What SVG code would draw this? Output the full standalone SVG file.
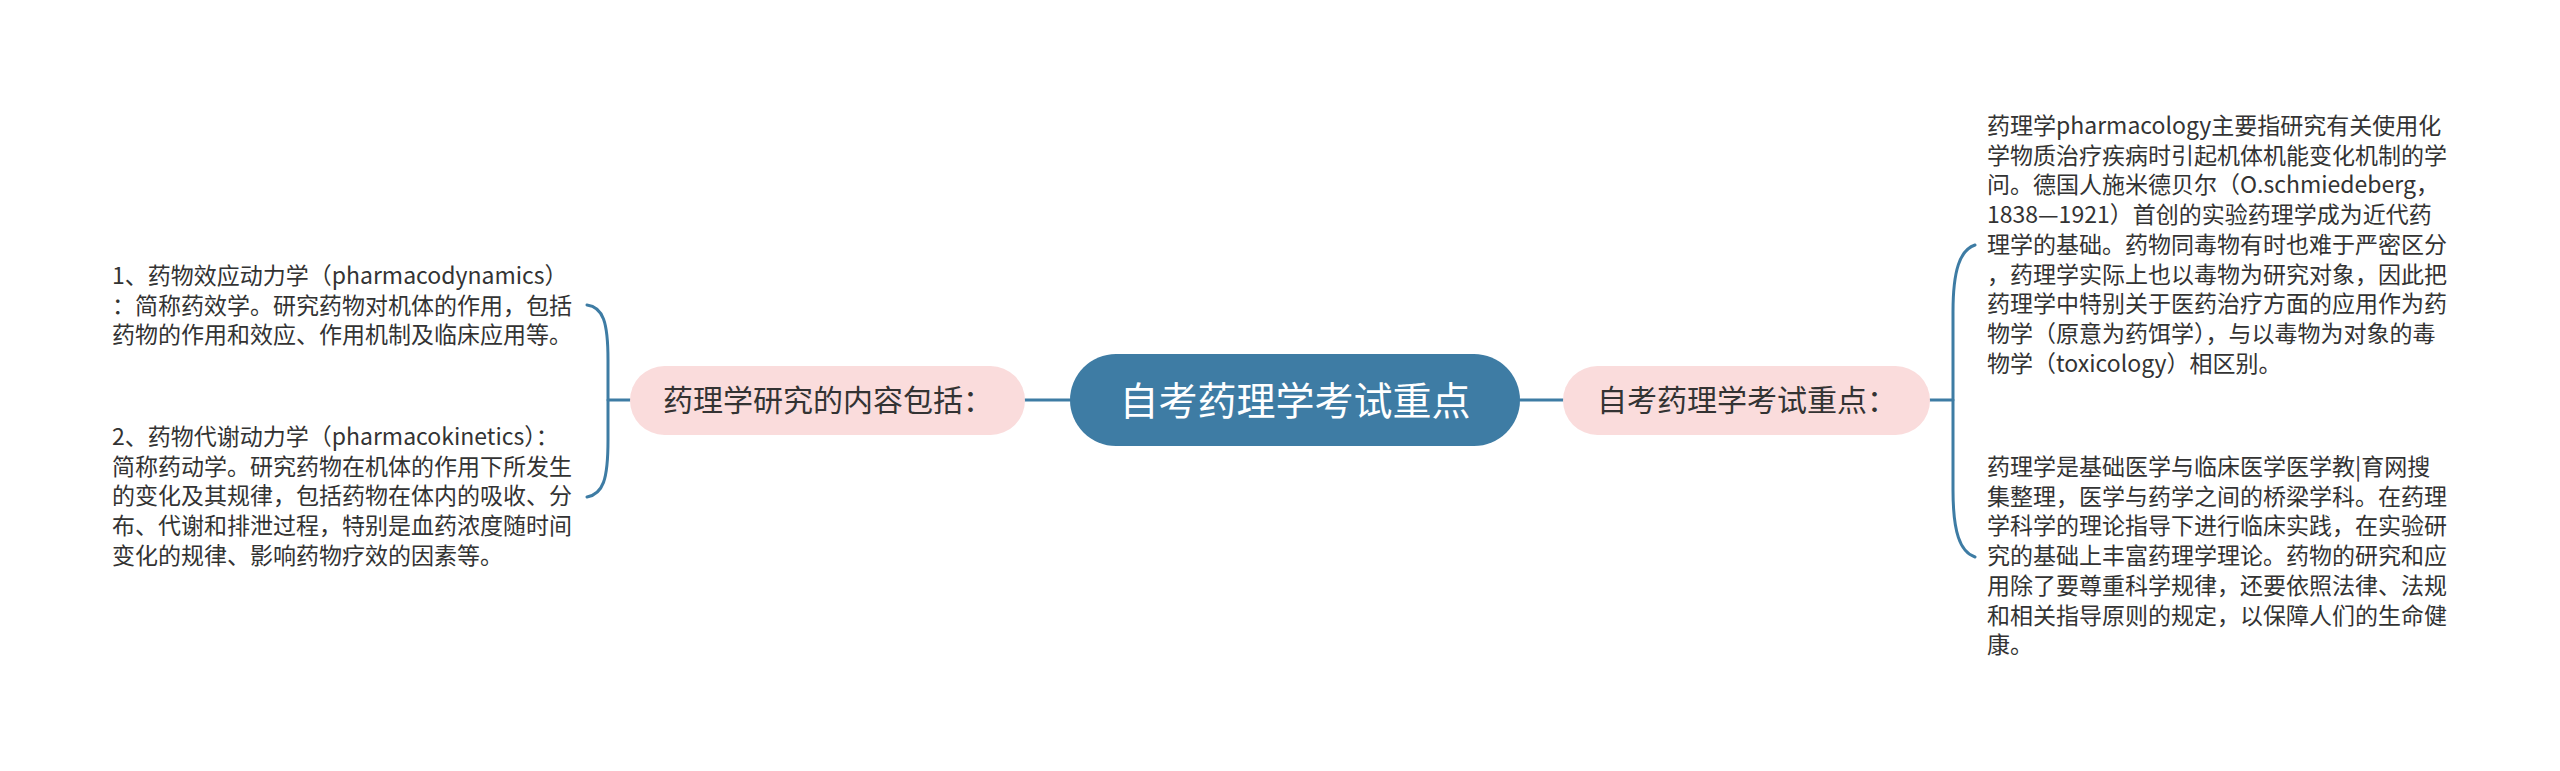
<svg xmlns="http://www.w3.org/2000/svg" width="2560" height="771" viewBox="0 0 2560 771">
<style>
.t{font-family:"Noto Sans CJK SC","Noto Sans",sans-serif;font-size:23px;fill:#333333}
.pk{fill:#fadcdc}
.pt{font-family:"Noto Sans CJK SC","Noto Sans",sans-serif;font-size:30px;fill:#333333}
.ln{fill:none;stroke:#3e7ca4;stroke-width:3;stroke-linecap:round}
</style>
<rect width="2560" height="771" fill="#ffffff"/>
<g id="connectors">
<path class="ln" d="M1025,400 L1070,400"/>
<path class="ln" d="M1520,400 L1563,400"/>
<path class="ln" d="M630,400 L608,400"/>
<path class="ln" d="M587,305 C603,307 608,322 608,360 L608,440 C608,480 603,494 587,497"/>
<path class="ln" d="M1930,400 L1953,400"/>
<path class="ln" d="M1975,245 C1960,250 1953,270 1953,312 L1953,490 C1953,532 1960,552 1975,557"/>
</g>
<g id="root">
<rect x="1070" y="354" width="450" height="92" rx="46" fill="#3e7ca4"/>
<text x="1295" y="415" text-anchor="middle" font-family="Noto Sans CJK SC, Noto Sans, sans-serif" font-size="39" fill="#ffffff">自考药理学考试重点</text>
</g>
<g id="left-topic">
<rect class="pk" x="630" y="366" width="395" height="69" rx="34.5"/>
<text class="pt" x="663" y="411">药理学研究的内容包括：</text>
</g>
<g id="right-topic">
<rect class="pk" x="1563" y="366" width="367" height="69" rx="34.5"/>
<text class="pt" x="1597" y="411">自考药理学考试重点：</text>
</g>
<g id="left-text-1">
<text class="t" x="112" y="284">1、药物效应动力学（pharmacodynamics）</text>
<text class="t" x="112" y="313.7">：简称药效学。研究药物对机体的作用，包括</text>
<text class="t" x="112" y="343.4">药物的作用和效应、作用机制及临床应用等。</text>
</g>
<g id="left-text-2">
<text class="t" x="112" y="445">2、药物代谢动力学（pharmacokinetics）：</text>
<text class="t" x="112" y="474.7">简称药动学。研究药物在机体的作用下所发生</text>
<text class="t" x="112" y="504.4">的变化及其规律，包括药物在体内的吸收、分</text>
<text class="t" x="112" y="534.1">布、代谢和排泄过程，特别是血药浓度随时间</text>
<text class="t" x="112" y="563.8">变化的规律、影响药物疗效的因素等。</text>
</g>
<g id="right-text-1">
<text class="t" x="1987" y="134">药理学pharmacology主要指研究有关使用化</text>
<text class="t" x="1987" y="163.7">学物质治疗疾病时引起机体机能变化机制的学</text>
<text class="t" x="1987" y="193.4">问。德国人施米德贝尔（O.schmiedeberg，</text>
<text class="t" x="1987" y="223.1">1838—1921）首创的实验药理学成为近代药</text>
<text class="t" x="1987" y="252.8">理学的基础。药物同毒物有时也难于严密区分</text>
<text class="t" x="1987" y="282.5">，药理学实际上也以毒物为研究对象，因此把</text>
<text class="t" x="1987" y="312.2">药理学中特别关于医药治疗方面的应用作为药</text>
<text class="t" x="1987" y="341.9">物学（原意为药饵学），与以毒物为对象的毒</text>
<text class="t" x="1987" y="371.6">物学（toxicology）相区别。</text>
</g>
<g id="right-text-2">
<text class="t" x="1987" y="475">药理学是基础医学与临床医学医学教|育网搜</text>
<text class="t" x="1987" y="504.7">集整理，医学与药学之间的桥梁学科。在药理</text>
<text class="t" x="1987" y="534.4">学科学的理论指导下进行临床实践，在实验研</text>
<text class="t" x="1987" y="564.1">究的基础上丰富药理学理论。药物的研究和应</text>
<text class="t" x="1987" y="593.8">用除了要尊重科学规律，还要依照法律、法规</text>
<text class="t" x="1987" y="623.5">和相关指导原则的规定，以保障人们的生命健</text>
<text class="t" x="1987" y="653.2">康。</text>
</g>
</svg>
